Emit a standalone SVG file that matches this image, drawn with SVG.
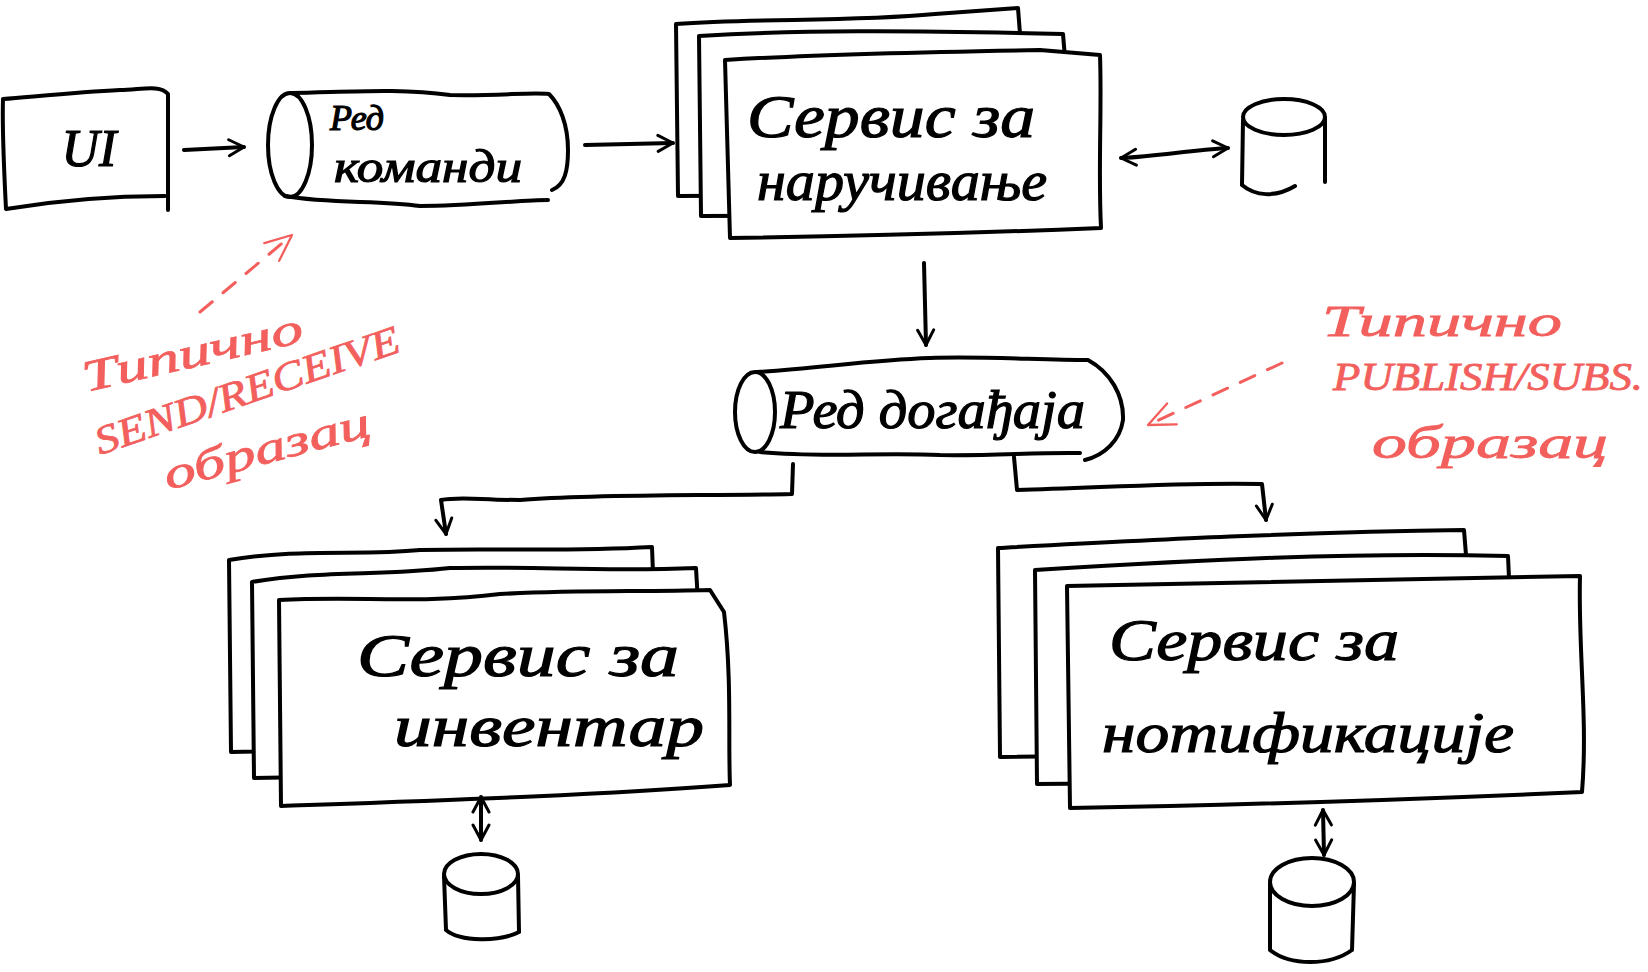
<svg xmlns="http://www.w3.org/2000/svg" width="1648" height="972" viewBox="0 0 1648 972">
<style>
.ln{fill:none;stroke:#000;stroke-width:4;stroke-linecap:round;stroke-linejoin:round}
.sh{fill:#fff;stroke:#000;stroke-width:4;stroke-linecap:round;stroke-linejoin:round}
.rd{fill:none;stroke:#f25f5c;stroke-width:3;stroke-linecap:round;stroke-linejoin:round}
.hw{font-family:"Liberation Serif","DejaVu Serif",serif;font-style:italic;fill:#000;stroke:#000;stroke-width:1.2}
.rt{font-family:"Liberation Serif","DejaVu Serif",serif;font-style:italic;fill:#f25f5c;stroke:#f25f5c;stroke-width:0.8}
</style>
<defs>
<marker id="ah" viewBox="0 0 20 20" refX="18" refY="10" markerWidth="5" markerHeight="5" orient="auto-start-reverse">
<path d="M3,2 L18,10 L3,18" fill="none" stroke="#000" stroke-width="3" stroke-linecap="round" stroke-linejoin="round"/>
</marker>
<marker id="rah" viewBox="0 0 20 20" refX="18" refY="10" markerWidth="11" markerHeight="11" orient="auto">
<path d="M2,3 L18,10 L2,17" fill="none" stroke="#f25f5c" stroke-width="1.4" stroke-linecap="round" stroke-linejoin="round"/>
</marker>
</defs>
<rect width="1648" height="972" fill="#fff"/>

<g id="ui">
<path class="ln" d="M3,99 C40,96 80,92 120,90 C140,90 160,84 168,94 L168,210 M165,196 C120,196 60,200 6,209 C4,170 2,130 3,99"/>
<text class="hw" x="89" y="166" font-size="52" text-anchor="middle">UI</text>
</g>

<g id="queue-commands">
<ellipse class="ln" cx="290" cy="145" rx="22" ry="52"/>
<path class="ln" d="M291,93 C350,92 400,88 450,95 C500,96 530,92 549,94 C560,105 568,125 568,150 C568,170 565,185 552,190 M285,196 C330,204 380,200 420,206 C470,206 520,200 548,200"/>
<text class="hw" x="330" y="130" font-size="36">Ред</text>
<text class="hw" x="334" y="182" font-size="46" textLength="188" lengthAdjust="spacingAndGlyphs">команди</text>
</g>

<g id="service-ordering">
<path class="sh" d="M676,24 C760,18 850,22 935,14 L1018,8 L1022,60 L1020,194 L678,196 Z"/>
<path class="sh" d="M699,36 C800,30 900,30 1063,34 L1066,70 L1064,215 L701,216 Z"/>
<path class="sh" d="M725,60 C820,54 920,52 1040,50 L1100,55 C1102,110 1098,170 1101,228 C1000,232 880,236 730,238 Z"/>
<text class="hw" x="747" y="137" font-size="62" textLength="288" lengthAdjust="spacingAndGlyphs">Сервис за</text>
<text class="hw" x="757" y="200" font-size="56" textLength="290" lengthAdjust="spacingAndGlyphs">наручивање</text>
</g>

<g id="db-ordering">
<ellipse class="ln" cx="1284" cy="117" rx="41" ry="18"/>
<path class="ln" d="M1243,120 L1242,185 M1325,118 L1325,182 M1242,185 C1255,196 1275,198 1295,186"/>
</g>

<g id="queue-events">
<ellipse class="ln" cx="755" cy="412" rx="20" ry="40"/>
<path class="ln" d="M757,372 C820,368 870,360 930,358 C980,356 1040,360 1088,360 C1110,372 1124,395 1123,420 C1120,440 1105,455 1085,460 M760,452 C820,458 880,452 940,455 C990,456 1040,452 1080,453"/>
<text class="hw" x="780" y="428" font-size="54" textLength="305" lengthAdjust="spacingAndGlyphs">Ред догађаја</text>
</g>

<g id="service-inventory">
<path class="sh" d="M229,560 C300,548 360,556 420,550 C500,548 560,552 652,547 L654,600 L652,745 L231,752 Z"/>
<path class="sh" d="M252,582 C320,570 380,576 450,568 C540,566 600,572 696,568 L699,620 L697,770 L254,778 Z"/>
<path class="sh" d="M279,600 C360,596 420,604 500,594 C580,590 640,592 710,590 L724,612 C732,680 728,740 730,785 C600,795 450,800 281,806 Z"/>
<text class="hw" x="357" y="676" font-size="62" textLength="322" lengthAdjust="spacingAndGlyphs">Сервис за</text>
<text class="hw" x="394" y="746" font-size="60" textLength="310" lengthAdjust="spacingAndGlyphs">инвентар</text>
</g>

<g id="db-inventory">
<ellipse class="ln" cx="481" cy="874" rx="37" ry="20"/>
<path class="ln" d="M444,876 L446,930 M518,876 L519,932 M446,930 C460,942 500,942 519,932"/>
</g>

<g id="service-notifications">
<path class="sh" d="M998,548 C1150,540 1300,532 1464,530 L1468,580 L1468,752 L1000,757 Z"/>
<path class="sh" d="M1035,570 C1200,560 1350,552 1508,556 L1510,600 L1510,780 L1037,784 Z"/>
<path class="sh" d="M1067,586 L1580,576 C1578,650 1588,720 1582,792 C1400,800 1250,805 1070,808 Z"/>
<text class="hw" x="1109" y="660" font-size="60" textLength="290" lengthAdjust="spacingAndGlyphs">Сервис за</text>
<text class="hw" x="1102" y="752" font-size="58" textLength="412" lengthAdjust="spacingAndGlyphs">нотификације</text>
</g>

<g id="db-notifications">
<ellipse class="ln" cx="1312" cy="882" rx="42" ry="24"/>
<path class="ln" d="M1270,884 L1270,950 M1354,884 L1352,950 M1270,950 C1290,966 1330,966 1352,950"/>
</g>

<g id="note-send-receive">
<text class="rt" x="86" y="392" font-size="44" transform="rotate(-13 86 392)" textLength="225" lengthAdjust="spacingAndGlyphs">Типично</text>
<text class="rt" x="100" y="455" font-size="40" transform="rotate(-19 100 455)" textLength="320" lengthAdjust="spacingAndGlyphs">SEND/RECEIVE</text>
<text class="rt" x="168" y="490" font-size="44" transform="rotate(-15 168 490)" textLength="212" lengthAdjust="spacingAndGlyphs">образац</text>
</g>

<g id="note-publish-subscribe">
<text class="rt" x="1322" y="336" font-size="44" textLength="240" lengthAdjust="spacingAndGlyphs">Типично</text>
<text class="rt" x="1333" y="390" font-size="40" textLength="310" lengthAdjust="spacingAndGlyphs">PUBLISH/SUBS.</text>
<text class="rt" x="1372" y="458" font-size="46" textLength="236" lengthAdjust="spacingAndGlyphs">образац</text>
</g>

<g id="connectors">
<path class="ln" d="M184,150 L244,147" marker-end="url(#ah)"/>
<path class="ln" d="M585,145 L673,143" marker-end="url(#ah)"/>
<path class="ln" d="M1121,158 C1160,156 1190,150 1228,148" marker-start="url(#ah)" marker-end="url(#ah)"/>
<path class="ln" d="M924,263 L926,345" marker-end="url(#ah)"/>
<path class="ln" d="M793,464 L792,494 C700,496 600,494 520,500 C480,500 460,496 441,500 L446,534" marker-end="url(#ah)"/>
<path class="ln" d="M1014,457 L1017,490 C1100,488 1180,482 1262,484 L1266,520" marker-end="url(#ah)"/>
<path class="ln" d="M481,797 L481,840" marker-start="url(#ah)" marker-end="url(#ah)"/>
<path class="ln" d="M1323,810 L1324,855" marker-start="url(#ah)" marker-end="url(#ah)"/>
<path class="rd" d="M200,312 L292,235" stroke-dasharray="16 14" marker-end="url(#rah)"/>
<path class="rd" d="M1282,363 L1148,425" stroke-dasharray="16 14" marker-end="url(#rah)"/>
</g>
</svg>
